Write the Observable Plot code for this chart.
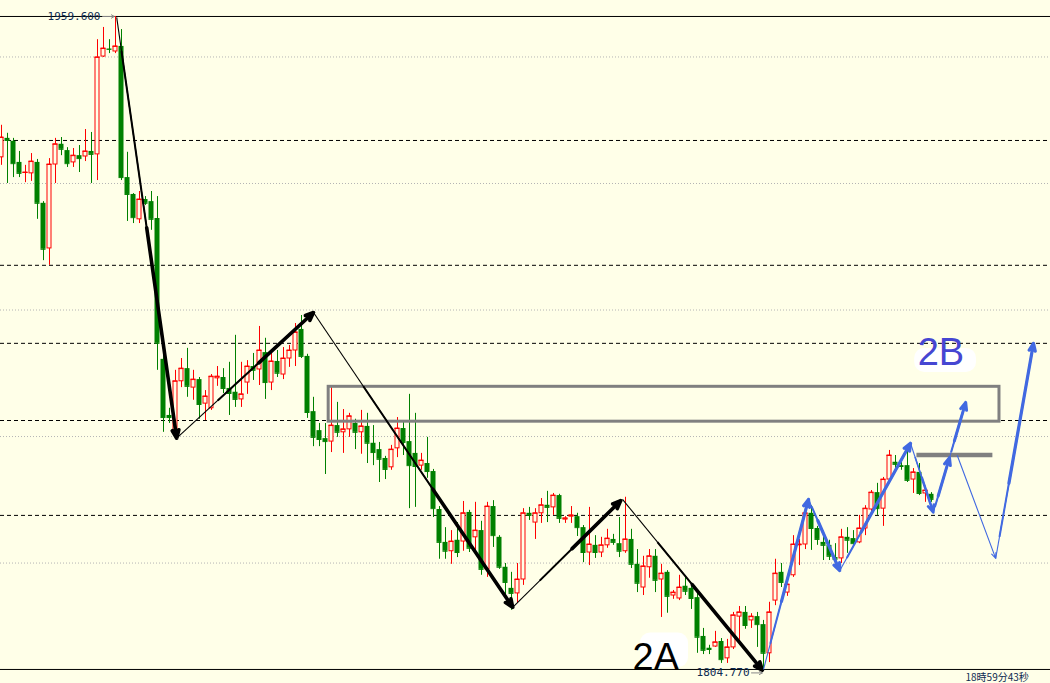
<!DOCTYPE html>
<html><head><meta charset="utf-8">
<script src="https://cdn.jsdelivr.net/npm/d3@7"></script>
<script src="https://cdn.jsdelivr.net/npm/@observablehq/plot@0.6"></script>
<style>html,body{margin:0;padding:0;background:#ffffe8;overflow:hidden}#chart svg{display:block}</style>
</head><body><div id="chart"></div>
<script>
// ---- candle data (one bar per index) ----
const opens = [1926.2,1930.7,1930.0,1925.0,1922.5,1922.4,1925.0,1915.3,1904.6,1924.5,
1929.3,1927.8,1925.0,1926.6,1926.4,1927.6,1926.9,1950.1,1951.9,1951.3,
1952.5,1921.4,1917.4,1911.5,1916.2,1915.7,1911.7,1878.3,1865.0,1860.7,
1873.1,1876.1,1871.6,1873.5,1867.8,1866.7,1873.8,1874.0,1871.4,1870.5,
1868.8,1872.8,1876.6,1875.9,1879.9,1872.8,1877.8,1874.7,1878.5,1880.4,
1885.4,1879.0,1865.9,1861.4,1859.5,1858.8,1862.6,1861.0,1861.7,1863.1,
1861.0,1862.4,1858.4,1856.9,1854.8,1852.7,1857.2,1861.9,1858.8,1856.0,
1853.1,1853.6,1851.7,1842.7,1834.9,1832.8,1835.4,1835.1,1842.0,1836.1,
1837.7,1828.5,1843.4,1836.1,1829.0,1824.0,1822.8,1826.1,1841.8,1839.6,
1841.8,1843.7,1843.2,1846.0,1840.3,1841.0,1841.0,1838.4,1832.5,1834.2,
1832.5,1834.2,1835.6,1834.6,1832.8,1835.6,1829.7,1824.2,1829.0,1831.6,
1826.1,1827.8,1822.3,1821.6,1824.5,1824.0,1821.8,1812.6,1809.8,1810.2,
1811.4,1807.4,1810.0,1817.3,1818.3,1816.4,1817.3,1815.4,1808.6,1821.1,
1827.8,1823.0,1827.1,1834.2,1834.4,1841.8,1838.2,1834.9,1834.2,1831.3,
1831.1,1836.1,1835.8,1834.9,1838.2,1842.7,1846.7,1842.9,1849.8,1853.9,
1853.1,1853.1,1849.8,1851.5,1846.5,1846.3];
const highs = [1933.8,1931.9,1930.7,1927.6,1924.3,1927.1,1925.7,1915.7,1925.9,1930.7,
1930.9,1928.5,1928.3,1929.0,1932.8,1932.1,1954.1,1957.0,1954.1,1959.6,
1956.5,1927.4,1917.6,1918.1,1916.9,1918.1,1916.9,1880.4,1866.7,1875.7,
1878.5,1880.9,1875.7,1874.0,1870.9,1874.7,1876.6,1876.1,1877.6,1884.0,
1877.6,1878.0,1879.7,1886.1,1883.3,1880.4,1880.4,1881.1,1881.6,1886.8,
1888.7,1879.5,1869.3,1863.1,1863.1,1871.6,1868.1,1866.4,1865.5,1864.1,
1866.2,1865.5,1862.6,1858.6,1855.3,1857.9,1864.5,1863.8,1870.0,1865.5,
1856.0,1859.8,1852.2,1843.4,1838.4,1837.7,1839.6,1844.6,1842.5,1844.4,
1839.9,1844.4,1844.8,1836.5,1829.9,1827.8,1829.9,1842.9,1843.2,1842.9,
1845.3,1847.0,1846.5,1846.3,1841.0,1843.4,1841.8,1838.9,1843.2,1836.5,
1836.1,1838.0,1836.8,1840.8,1845.6,1838.0,1833.2,1831.6,1833.2,1833.2,
1829.7,1828.2,1823.5,1827.1,1826.6,1825.2,1823.0,1814.5,1810.5,1813.8,
1812.1,1811.9,1818.3,1819.7,1819.7,1818.0,1818.3,1816.4,1820.7,1830.9,
1829.9,1826.8,1836.5,1835.6,1844.1,1843.6,1838.7,1836.3,1835.4,1834.6,
1838.0,1838.4,1837.7,1841.3,1843.6,1847.2,1848.9,1850.3,1856.7,1855.5,
1854.6,1856.9,1852.4,1853.6,1848.2,1846.7];
const lows = [1924.3,1920.0,1921.4,1921.4,1920.2,1920.5,1911.5,1901.7,1900.6,1920.0,
1926.6,1923.8,1923.8,1922.6,1925.2,1920.0,1920.7,1949.9,1950.8,1950.8,
1920.7,1911.0,1910.5,1910.5,1914.8,1908.9,1875.7,1861.0,1863.1,1859.8,
1871.6,1869.3,1868.6,1864.1,1863.8,1866.2,1871.9,1870.2,1865.0,1866.9,
1866.9,1870.0,1873.3,1872.1,1868.8,1870.9,1874.0,1873.5,1876.4,1876.6,
1878.5,1864.3,1857.6,1857.6,1851.0,1856.2,1859.8,1856.0,1859.8,1856.9,
1855.8,1853.6,1853.1,1849.1,1849.8,1852.0,1855.0,1855.5,1842.9,1843.2,
1852.0,1850.1,1840.8,1830.9,1830.9,1829.7,1831.3,1832.8,1832.5,1833.0,
1827.1,1826.6,1833.7,1828.5,1821.8,1818.8,1820.4,1824.7,1840.1,1835.6,
1839.4,1839.6,1841.3,1839.4,1839.4,1839.4,1836.3,1830.1,1829.4,1831.1,
1831.3,1833.5,1834.2,1831.3,1832.3,1828.7,1823.0,1822.3,1826.4,1823.0,
1817.1,1818.1,1821.4,1821.1,1822.3,1819.0,1808.6,1808.3,1808.3,1810.0,
1806.2,1806.2,1809.5,1811.7,1814.3,1814.5,1810.0,1804.77,1806.4,1819.9,
1824.2,1822.1,1826.6,1829.4,1833.2,1833.0,1834.2,1830.6,1830.6,1829.4,
1829.9,1832.3,1834.2,1834.6,1836.5,1841.3,1841.3,1838.7,1849.1,1852.4,
1852.0,1849.1,1846.5,1846.0,1844.4,1844.4];
const closes = [1930.9,1930.2,1924.7,1922.4,1922.6,1925.2,1915.3,1904.4,1924.5,1929.3,
1928.1,1924.7,1926.6,1925.9,1927.6,1926.9,1949.9,1952.0,1951.8,1952.5,
1921.4,1917.4,1911.9,1916.2,1915.3,1911.5,1882.1,1864.5,1864.5,1873.1,
1876.1,1871.9,1873.5,1867.6,1869.5,1874.2,1874.2,1871.4,1870.2,1868.8,
1870.0,1876.6,1875.7,1880.4,1872.8,1877.8,1875.0,1878.5,1880.4,1884.7,
1879.0,1865.7,1859.8,1859.3,1858.8,1862.6,1861.0,1861.7,1864.8,1861.0,
1862.4,1858.4,1856.2,1854.6,1852.2,1856.9,1861.9,1858.6,1853.1,1852.9,
1854.3,1851.7,1842.9,1834.9,1832.8,1835.1,1832.5,1841.8,1833.5,1837.7,
1828.5,1843.4,1836.5,1829.0,1825.4,1822.8,1826.1,1841.8,1841.3,1841.8,
1843.7,1843.2,1846.0,1840.6,1840.6,1841.3,1838.4,1832.5,1834.4,1832.5,
1834.2,1835.8,1834.9,1832.8,1835.6,1829.7,1825.2,1829.2,1831.6,1825.9,
1827.5,1822.1,1823.0,1824.2,1823.3,1821.6,1812.4,1809.3,1809.5,1811.2,
1807.1,1810.0,1817.6,1818.3,1815.2,1817.3,1815.4,1808.6,1818.3,1827.5,
1825.4,1824.9,1834.4,1834.4,1841.8,1838.2,1835.6,1834.2,1831.6,1830.9,
1836.1,1835.4,1834.6,1838.2,1842.9,1846.7,1842.9,1849.8,1855.5,1853.4,
1852.9,1849.6,1851.5,1846.5,1847.2,1845.1];

// ---- horizontal levels ----
const gridLevels = [1950, 1920, 1890, 1860, 1830];
const dashedLevels = [1930.2, 1900.6, 1882.1, 1863.8, 1841.3];
const extremeLevels = [1959.6, 1804.77];
const extremeLabels = ["1959.600", "1804.770"];

// ---- drawn annotations (bar index, price) ----
const blackArrows = [
  {x1: 19.2, y1: 1959.4, x2: 29.2, y2: 1859.6, t: 0.08, m: 2, t2: 0.5, w: 3.6},
  {x1: 29.2, y1: 1859.6, x2: 52.0, y2: 1889.4, t: 0.3, m: 2, t2: 0.6, w: 3.6},
  {x1: 52.0, y1: 1889.4, x2: 85.2, y2: 1819.5, t: 0.25, m: 2, t2: 0.6, w: 3.6},
  {x1: 85.2, y1: 1819.5, x2: 103.2, y2: 1844.8, t: 0.25, m: 2, t2: 0.55, w: 3.6},
  {x1: 103.5, y1: 1845.1, x2: 126.8, y2: 1804.6, t: 0.25, m: 2, t2: 0.5, w: 3.6}
];
const blueArrows = [
  {x1: 127.0, y1: 1804.8, x2: 134.5, y2: 1845.1, t: 0.15, m: 2, t2: 0.4, w: 3.2},
  {x1: 134.5, y1: 1845.1, x2: 139.7, y2: 1828.2, t: 0.1, m: 2, t2: 0.3, w: 3.2},
  {x1: 139.7, y1: 1828.2, x2: 151.5, y2: 1858.4, t: 0.1, m: 2, t2: 0.3, w: 3.2},
  {x1: 151.5, y1: 1858.4, x2: 155.3, y2: 1842.0, t: 0.2, m: 1.6, t2: 0.5, w: 2.6},
  {x1: 155.3, y1: 1842.0, x2: 158.0, y2: 1855.0, t: 0.1, m: 2, t2: 0.3, w: 3.0},
  {x1: 158.0, y1: 1855.0, x2: 160.7, y2: 1868.1, t: 0.1, m: 2, t2: 0.3, w: 3.0},
  {x1: 165.7, y1: 1831.1, x2: 172.0, y2: 1882.1, t: 0.1, m: 2, t2: 0.35, w: 3.2}
];
const thinBlue = [{x1: 159.3, y1: 1855.5, x2: 165.7, y2: 1831.1}];
const zoneBox = [{x1: 54.53, x2: 166.33, y1: 1863.52, y2: 1871.79}];
const targetBar = [{x1: 152.57, x2: 165.23, y: 1855.62}];
const waveLabels = [
  {x: 109.05, y: 1807.42, text: "2A", color: "#000000", bx1: 106.5, bx2: 114.5, by1: 1805.2, by2: 1813.4},
  {x: 156.56, y: 1879.74, text: "2B", color: "#4646d2", bx1: 152.2, bx2: 162.5, by1: 1875.2, by2: 1880.9}
];
const priceLabels = [
  {x: 16.5, y: 1959.6, text: extremeLabels[0], ax1: 16.85, ax2: 18.8},
  {x: 124.67, y: 1803.95, text: extremeLabels[1], ax1: 125.0, ax2: 126.8}
];
const clockLabel = [{x: 160.67, y: 1802.75, text: "18時59分43秒"}];

// ---- build tables ----
const candles = opens.map((o, i) => ({
  i, open: o, high: highs[i], low: lows[i], close: closes[i], up: closes[i] >= o
}));
const upC = candles.filter(d => d.up), dnC = candles.filter(d => !d.up);
const lerp = (a, f) => ({x1: a.x1 + (a.x2 - a.x1) * f, y1: a.y1 + (a.y2 - a.y1) * f, x2: a.x2, y2: a.y2});
function arrowMarks(arr, color, head) {
  const mid = arr.map(a => ({...lerp(a, a.t), w: a.m}));
  const thick = arr.map(a => ({...lerp(a, a.t2), w: a.w}));
  return [
    Plot.link(arr, {x1: "x1", y1: "y1", x2: "x2", y2: "y2", stroke: color, strokeWidth: 1.1}),
    Plot.link(mid, {x1: "x1", y1: "y1", x2: "x2", y2: "y2", stroke: color, strokeWidth: "w"}),
    Plot.arrow(thick, {x1: "x1", y1: "y1", x2: "x2", y2: "y2", stroke: color, strokeWidth: "w", headLength: head, headAngle: 45, strokeLinejoin: "miter"})
  ];
}
const GREEN = "#008000", RED = "#ff0000", BG = "#ffffe8", BLUE = "#4169e1";

const chart = Plot.plot({
  width: 1050, height: 683, margin: 0,
  x: {domain: [-1/6, 1049/6], axis: null},
  y: {domain: [1801.44, 1963.39], axis: null},
  style: {background: BG, overflow: "hidden"},
  marks: [
    Plot.ruleY(gridLevels, {stroke: "#b4b4b4", strokeDasharray: "1,2"}),
    Plot.ruleY(dashedLevels, {stroke: "#000", strokeDasharray: "4,3"}),
    Plot.ruleY(extremeLevels, {stroke: "#000"}),
    // wicks
    Plot.ruleX(candles, {x: "i", y1: "low", y2: "high", stroke: d => d.up ? RED : GREEN}),
    // bodies
    Plot.rect(dnC, {x1: d => d.i - 0.4167, x2: d => d.i + 0.4167, y1: "open", y2: "close", fill: GREEN}),
    Plot.rect(upC, {x1: d => d.i - 0.3333, x2: d => d.i + 0.3333, y1: "open", y2: "close", fill: BG, stroke: RED}),
    Plot.ruleY(candles, {y: "close", x1: d => d.i - 0.4167, x2: d => d.i + 0.4167, stroke: d => d.up ? RED : GREEN}),
    // zone rectangle and target bar
    Plot.rect(zoneBox, {x1: "x1", x2: "x2", y1: "y1", y2: "y2", fill: "none", stroke: "#808080", strokeWidth: 3}),
    Plot.ruleY(targetBar, {y: "y", x1: "x1", x2: "x2", stroke: "#808080", strokeWidth: 4.5}),
    // arrows
    ...arrowMarks(blackArrows, "#000", 13),
    ...arrowMarks(blueArrows, BLUE, 12),
    Plot.arrow(thinBlue, {x1: "x1", y1: "y1", x2: "x2", y2: "y2", stroke: BLUE, strokeWidth: 1.1, headLength: 8, headAngle: 45}),
    // price labels
    Plot.arrow(priceLabels, {x1: "ax1", x2: "ax2", y1: "y", y2: "y", stroke: "#888", strokeWidth: 1, headLength: 5}),
    Plot.text(priceLabels, {x: "x", y: "y", text: "text", textAnchor: "end", fill: "#0d2b52", fontSize: 11, fontFamily: "DejaVu Sans Mono"}),
    // wave labels
    Plot.rect(waveLabels, {x1: "bx1", x2: "bx2", y1: "by1", y2: "by2", fill: "#ffffff", rx: 10}),
    Plot.text(waveLabels, {x: "x", y: "y", text: "text", fill: "color", fontSize: 38, fontFamily: "Liberation Sans, Arial, sans-serif"}),
    Plot.text(clockLabel, {x: "x", y: "y", text: "text", textAnchor: "start", fill: "#0d2b52", fontSize: 10, fontFamily: "Noto Sans CJK JP, DejaVu Sans"})
  ]
});
document.getElementById("chart").append(chart);
</script>
</body></html>
